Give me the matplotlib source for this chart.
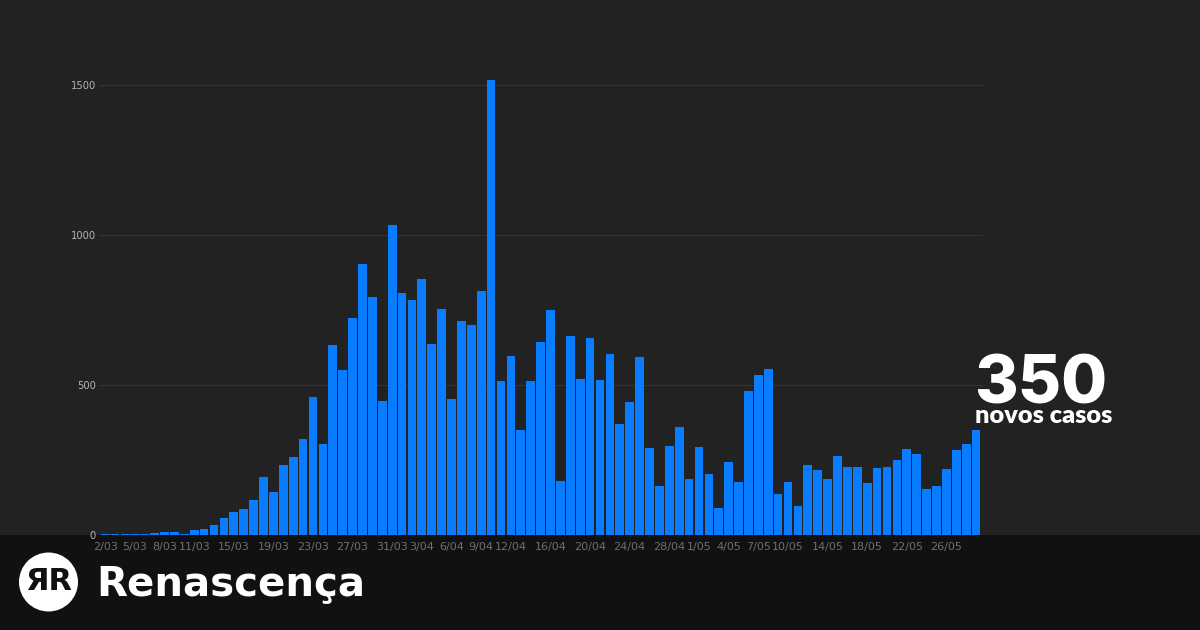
import matplotlib
matplotlib.use("Agg")
import matplotlib.pyplot as plt
from matplotlib.patches import Rectangle, Circle

# Daily new cases, 2/03 .. 29/05
casos = [2, 2, 2, 3, 4, 8, 9, 9, 2, 18, 19, 34, 57, 76, 86, 117, 194, 143, 235, 260,
         320, 460, 302, 633, 549, 724, 902, 792, 446, 1035,
         808, 783, 852, 638, 754, 452, 712, 699, 815, 1516, 515, 598, 349, 514, 643,
         750, 181, 663, 521, 657, 516, 603, 371, 444, 595, 290, 163, 298, 361, 187,
         294, 202, 91, 242, 178, 480, 532, 553, 138, 176, 98, 233, 218, 187, 263,
         226, 226, 172, 222, 227, 251, 287, 271, 152, 164, 219, 284, 304, 350]

tick_idx = [0, 3, 6, 9, 13, 17, 21, 25, 29, 32, 35, 38, 41, 45, 49, 53, 57, 60, 63,
            66, 69, 73, 77, 81, 85]
tick_labels = ["2/03", "5/03", "8/03", "11/03", "15/03", "19/03", "23/03", "27/03",
               "31/03", "3/04", "6/04", "9/04", "12/04", "16/04", "20/04", "24/04",
               "28/04", "1/05", "4/05", "7/05", "10/05", "14/05", "18/05", "22/05",
               "26/05"]
y_ticks = [0, 500, 1000, 1500]

BG = "#222222"
BAND = "#111111"
BLUE = "#0a7cff"

W, H = 1200, 630
fig = plt.figure(figsize=(12, 6.3), dpi=100, facecolor=BG)

# bottom dark band
fig.patches.append(Rectangle((0, 0), 1, 95 / H, transform=fig.transFigure,
                             facecolor=BAND, edgecolor="none", zorder=-1))

ax = fig.add_axes([100 / W, 95 / H, 883 / W, 474 / H])
ax.set_facecolor(BG)
x = list(range(len(casos)))
ax.bar(x, casos, width=0.88, color=BLUE, zorder=3)
ax.set_xlim(-0.52, 88.7)
ax.set_ylim(0, 1580)
for s in ax.spines.values():
    s.set_visible(False)
ax.set_yticks(y_ticks)
ax.set_yticklabels([str(v) for v in y_ticks], fontsize=7.2, color="#b4b4b8")
ax.yaxis.grid(True, color="#343434", linewidth=0.8, zorder=0)
ax.set_xticks(tick_idx)
ax.set_xticklabels(tick_labels, fontsize=8, color="#6f6f6f")
ax.tick_params(axis="both", length=0)
ax.tick_params(axis="x", pad=5)
ax.tick_params(axis="y", pad=3)

# annotation
fig.text(974 / W, (H - 403) / H, "350", color="white", fontsize=48,
         fontweight="heavy", family=["Inter", "Lato", "DejaVu Sans"],
         ha="left", va="baseline")
fig.text(975 / W, (H - 423) / H, "novos casos", color="white", fontsize=18.3,
         fontweight="heavy", family=["Lato", "DejaVu Sans"],
         ha="left", va="baseline")

# logo
cy = (H - 582) / H
logo = Circle((48.5, H - 582), 29.5, transform=None, facecolor="white",
              edgecolor="none", zorder=2)
fig.patches.append(logo)
fig.text(49 / W, cy, "ЯR", color=BAND, fontsize=22, fontweight="bold",
         ha="center", va="center", zorder=3)
fig.text(96 / W, (H - 595) / H, "Renascença", color="white", fontsize=29,
         fontweight="bold", family="DejaVu Sans", ha="left", va="baseline")

fig.savefig("out.png", dpi=100, facecolor=BG)
